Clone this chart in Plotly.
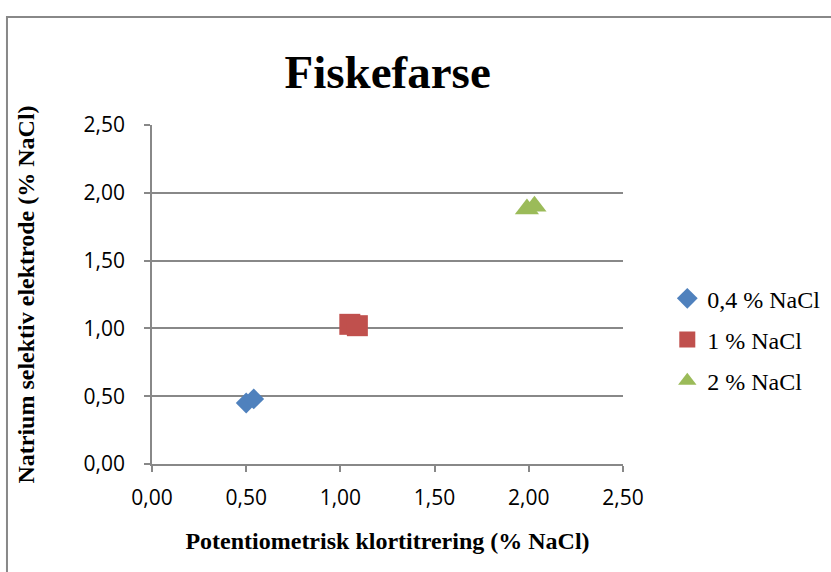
import plotly.graph_objects as go

# Measured salt content: potentiometric chloride titration vs. sodium-selective electrode
series_names = ["0,4 % NaCl", "1 % NaCl", "2 % NaCl"]
titration_x = [
    [0.50, 0.54],
    [1.05, 1.09],
    [1.99, 2.03],
]
electrode_y = [
    [0.45, 0.48],
    [1.03, 1.02],
    [1.88, 1.90],
]
colors = ["#4F81BD", "#C0504D", "#9BBB59"]
symbols = ["diamond", "square", "triangle-up"]
sizes = [16, 21, 21]

tick_vals = [0, 0.5, 1.0, 1.5, 2.0, 2.5]

fig = go.Figure()
for name, xs, ys, c, s, sz in zip(series_names, titration_x, electrode_y, colors, symbols, sizes):
    fig.add_trace(go.Scatter(
        x=xs, y=ys, mode="markers", name=name, legendgroup=name,
        marker=dict(symbol=s, color=c, size=sz, line=dict(width=0)),
    ))

axis_font = dict(family="Open Sans, Liberation Sans, sans-serif", size=21, color="#000000")
title_font = dict(family="Liberation Serif, Times New Roman, serif", size=24, color="#000000")

fig.update_layout(
    width=831, height=572,
    margin=dict(l=152, r=208, t=125, b=108, autoexpand=False),
    paper_bgcolor="white", plot_bgcolor="white",
    separators=",.",
    title=dict(
        text="<b>Fiskefarse</b>", x=0.4665, xanchor="center", y=0.875, yanchor="middle",
        font=dict(family="Liberation Serif, Times New Roman, serif", size=47, color="#000000"),
    ),
    xaxis=dict(
        range=[0, 2.5], tickvals=tick_vals, tickformat=".2f",
        showgrid=False, zeroline=False, automargin=False,
        showline=True, linecolor="#888888", linewidth=1.5,
        ticks="outside", ticklen=6, tickcolor="#888888", tickwidth=1.5,
        tickfont=axis_font, ticklabelstandoff=8,
        title=dict(text="<b>Potentiometrisk klortitrering (% NaCl)</b>", font=title_font, standoff=22),
    ),
    yaxis=dict(
        range=[0, 2.5], tickvals=tick_vals, tickformat=".2f",
        showgrid=True, gridcolor="#888888", gridwidth=1.5, zeroline=False, automargin=False,
        showline=True, linecolor="#888888", linewidth=1.5,
        ticks="outside", ticklen=6, tickcolor="#888888", tickwidth=1.5,
        tickfont=axis_font, ticklabelstandoff=15,
        title=dict(text="<b>Natrium selektiv elektrode (% NaCl)</b>", font=title_font, standoff=42),
    ),
    legend=dict(
        xref="container", yref="container",
        x=0.803, xanchor="left", y=0.406, yanchor="middle",
        font=dict(family="Liberation Serif, Times New Roman, serif", size=24, color="#000000"),
        tracegroupgap=7, itemwidth=30, bgcolor="rgba(0,0,0,0)",
    ),
    showlegend=True,
)

# Outer chart frame
fig.add_shape(
    type="path", xref="paper", yref="paper",
    path="M 1.6,1.3186 L -0.3079,1.3186 L -0.3079,-0.4",
    line=dict(color="#888888", width=2),
)

fig.write_html("out.html")
